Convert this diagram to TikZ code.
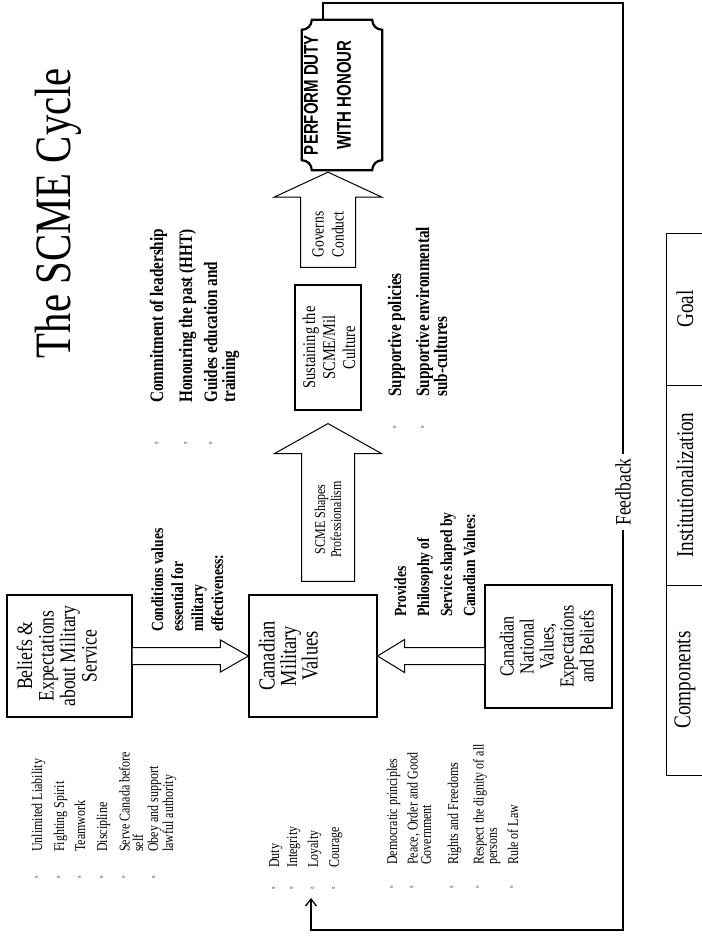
\documentclass[tikz,border=0pt]{standalone}
\usepackage{fontspec}
\setmainfont{Liberation Serif}[FakeStretch=0.8]
\newfontfamily\plaquefont{Liberation Sans}[FakeStretch=0.75]
\usetikzlibrary{calc,arrows.meta}

\newcommand\fsz[2]{\fontsize{#1}{#2}\selectfont}

\tikzset{
  every node/.style={rotate=90, inner sep=0pt},
  txtbox/.style={draw, line width=1.1pt},
  boxtext/.style={align=center, anchor=north},
  listitem/.style={anchor=base west, align=left, font=\fsz{15}{13.5}},
  bolditem/.style={anchor=base west, align=left, font=\bfseries\fsz{19}{18}},
  bul/.style={font=\fsz{8}{8}},
  fat/.style={draw, line width=1pt, fill=white, line join=miter},
  fb/.style={line width=1.3pt},
  cell/.style={draw, line width=1pt, minimum height=38pt, font=\fsz{24}{26}}
}

\begin{document}
\begin{tikzpicture}[x=1pt, y=-1pt]
\useasboundingbox (0,0) rectangle (701,939);

\node[font=\fsz{51}{56}, anchor=base] (title) at (70,213) {The SCME Cycle};

% boxes
\node[txtbox, minimum width=122pt, minimum height=125pt] (bel) at (69.5,656) {};
\node[boxtext, font=\fsz{22}{21.5}] (belTxt) at ($(bel.north)+(10,0)$)
  {Beliefs \&\\Expectations\\about Military\\Service};

\node[txtbox, minimum width=122pt, minimum height=128pt] (cmv) at (313,656) {};
\node[boxtext, font=\fsz{23}{21.5}] (cmvTxt) at ($(cmv.north)+(10,0)$)
  {Canadian\\Military\\Values};

\node[txtbox, minimum width=123pt, minimum height=127pt] (cn) at (548.5,646.5) {};
\node[boxtext, font=\fsz{20}{20}] (cnTxt) at ($(cn.north)+(15,0)$)
  {Canadian\\National\\Values,\\Expectations\\and Beliefs};

\node[txtbox, minimum width=125pt, minimum height=66pt] (sus) at (328,347.5) {};
\node[boxtext, font=\fsz{18}{20}] (susTxt) at ($(sus.north)+(8,0)$)
  {Sustaining the\\SCME/Mil\\Culture};

\node[minimum width=150pt, minimum height=80pt] (perf) at (342,95) {};
\draw[line width=2.2pt]
  ($(perf.north east)+(10,0)$) -- ($(perf.south east)+(-10,0)$)
  .. controls ($(perf.south east)+(-10,5.5)$) and ($(perf.south east)+(-5.5,10)$) .. ($(perf.south east)+(0,10)$)
  -- ($(perf.south west)+(0,-10)$)
  .. controls ($(perf.south west)+(-5.5,-10)$) and ($(perf.south west)+(-10,-5.5)$) .. ($(perf.south west)+(-10,0)$)
  -- ($(perf.north west)+(10,0)$)
  .. controls ($(perf.north west)+(10,-5.5)$) and ($(perf.north west)+(5.5,-10)$) .. ($(perf.north west)+(0,-10)$)
  -- ($(perf.north east)+(0,10)$)
  .. controls ($(perf.north east)+(5.5,10)$) and ($(perf.north east)+(10,5.5)$) .. cycle;
\node[boxtext, font=\plaquefont\bfseries\fsz{20}{33}] (perfTxt) at ($(perf.north)+(2,0)$)
  {PERFORM DUTY\\WITH HONOUR};

% block arrows
\draw[fat] ($(bel.south)+(0,-8.5)$) -- ($(cmv.north)+(-28,-8.5)$) -- ($(cmv.north)+(-28,-16)$)
  -- (cmv.north) -- ($(cmv.north)+(-28,16)$) -- ($(cmv.north)+(-28,8.5)$) -- ($(bel.south)+(0,8.5)$);
\draw[fat] ($(cn.north |- cmv.south)+(0,-8.5)$) -- ($(cmv.south)+(27,-8.5)$) -- ($(cmv.south)+(27,-16.5)$)
  -- (cmv.south) -- ($(cmv.south)+(27,16.5)$) -- ($(cmv.south)+(27,8.5)$) -- ($(cn.north |- cmv.south)+(0,8.5)$);

\coordinate (sTip) at ($(sus.west)+(0,13)$);
\coordinate (sTail) at ($(sus.west |- cmv.east)+(0,-13)$);
\draw[fat] ($(sTail)+(-26.5,0)$) -- ($(sTip)+(-26.5,30)$) -- ($(sTip)+(-53.5,30)$) -- (sTip)
  -- ($(sTip)+(53.5,30)$) -- ($(sTip)+(26.5,30)$) -- ($(sTail)+(26.5,0)$) -- cycle;
\node[font=\fsz{15}{16}, align=center] (sTxt) at ($(sTail)+(0,-62)$) {SCME Shapes\\Professionalism};

\coordinate (gTip) at ($(sus.east |- perf.west)+(0,2)$);
\coordinate (gTail) at ($(sus.east)+(0,-17)$);
\draw[fat] ($(gTail)+(-27.5,0)$) -- ($(gTip)+(-27.5,25)$) -- ($(gTip)+(-54,25)$) -- (gTip)
  -- ($(gTip)+(54,25)$) -- ($(gTip)+(27.5,25)$) -- ($(gTail)+(27.5,0)$) -- cycle;
\node[font=\fsz{17}{20}, align=center] (gTxt) at ($(gTail)+(0,-33)$) {Governs\\Conduct};

% arrow captions (base = last line)
\node[bolditem, font=\bfseries\fsz{17}{20}] (cond) at (223,632)
  {Conditions values\\essential for\\military\\effectiveness:};
\node[bolditem, font=\bfseries\fsz{17}{23}] (prov) at (475,617)
  {Provides\\Philosophy of\\Service shaped by\\Canadian Values:};

% lists
\node[bolditem] (com1) at (163,403) {Commitment of leadership};
\node[bolditem] (com2) at (192,403) {Honouring the past (HHT)};
\node[bolditem] (com3) at (235,403) {Guides education and\\training};
\node[bolditem] (sup1) at (401,397) {Supportive policies};
\node[bolditem] (sup2) at (447,397) {Supportive environmental\\sub-cultures};

\node[listitem] (bl1) at (42,852) {Unlimited Liability};
\node[listitem] (bl2) at (64,852) {Fighting Spirit};
\node[listitem] (bl3) at (85,852) {Teamwork};
\node[listitem] (bl4) at (107,852) {Discipline};
\node[listitem] (bl5) at (143,852) {Serve Canada before\\self};
\node[listitem] (bl6) at (173,852) {Obey and support\\lawful authority};

\node[listitem] (mv1) at (279,868) {Duty};
\node[listitem] (mv2) at (297,868) {Integrity};
\node[listitem] (mv3) at (318,868) {Loyalty};
\node[listitem] (mv4) at (339,868) {Courage};

\node[listitem] (nv1) at (397,865) {Democratic principles};
\node[listitem] (nv2) at (431,865) {Peace, Order and Good\\Government};
\node[listitem] (nv3) at (458,865) {Rights and Freedoms};
\node[listitem] (nv4) at (497,865) {Respect the dignity of all\\persons};
\node[listitem] (nv5) at (518,865) {Rule of Law};

\foreach \bx/\by [count=\i] in {158/443,187/443,212/443,396/427,424/427,
    38/877,60/877,81/877,103/877,125/877,155/877,
    275/888,293/888,314/888,335/888,
    393/887,413/887,453/887,479/887,513/887}
  \node[bul] (b\i) at (\bx,\by) {°};

% feedback loop
\coordinate (fbTop) at (623,3);
\coordinate (fbBot) at (623,930);
\coordinate (fbTip) at (311,898);
\node[font=\fsz{22}{26}, inner sep=4pt] (fbLbl) at (623,492) {Feedback};
\draw[fb] ($(perf.east)+(-19,0)$) |- (fbTop) -- (fbLbl);
\draw[fb, -{Straight Barb[length=7pt,width=11pt]}] (fbLbl) -- (fbBot) -| (fbTip);

% table
\node[cell, minimum width=152pt] (goal) at (685,309) {Goal};
\node[cell, minimum width=200pt] (inst) at (685,485) {Institutionalization};
\node[cell, minimum width=190pt] (comp) at (685,680) {Components};

\end{tikzpicture}
\end{document}
